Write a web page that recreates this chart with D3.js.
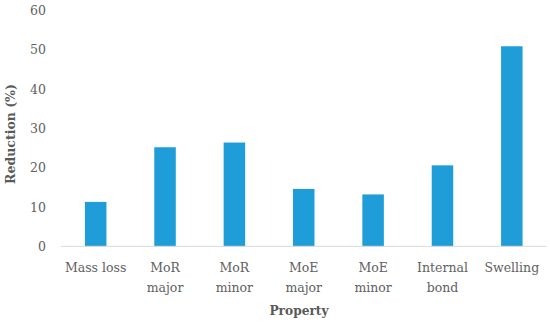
<!DOCTYPE html>
<html><head><meta charset="utf-8">
<script src="https://cdn.jsdelivr.net/npm/d3@7"></script>
<style>body{margin:0;background:#fff}svg{display:block}</style>
</head><body>
<svg id="c" width="550" height="324"></svg>
<script>
const categories = [["Mass loss"],["MoR","major"],["MoR","minor"],["MoE","major"],["MoE","minor"],["Internal","bond"],["Swelling"]];
const values = [11.3, 25.2, 26.4, 14.6, 13.2, 20.6, 50.9];
const yTicks = [0,10,20,30,40,50,60];
const yTitle = "Reduction (%)";
const xTitle = "Property";

const svg = d3.select("#c");
const font = "'DejaVu Serif', serif";
const x = d3.scaleBand().domain(d3.range(categories.length)).range([61, 546.5]).paddingInner(0.69).paddingOuter(0.345);
const y = d3.scaleLinear().domain([0,60]).range([246.3, 10.5]);

svg.selectAll("rect.bar").data(values).join("rect")
  .attr("class","bar")
  .attr("x",(d,i)=>x(i)).attr("width",x.bandwidth())
  .attr("y",d=>y(d)).attr("height",d=>y(0)-y(d))
  .attr("fill","#1e9dd8");

// baseline
svg.append("line").attr("x1",61).attr("x2",546.5).attr("y1",y(0)).attr("y2",y(0))
  .attr("stroke","#d9d9d9").attr("stroke-width",1);

// y axis labels
const yAxis = d3.axisLeft(y).tickValues(yTicks).tickSize(0).tickPadding(0);
const gy = svg.append("g").attr("transform","translate(46,0)").call(yAxis);
gy.select(".domain").remove();
gy.selectAll("text").attr("font-family",font).attr("font-size","12.5px").attr("fill","#616161");

// x labels
const gx = svg.append("g");
categories.forEach((lines,i)=>{
  const t = gx.append("text").attr("x",x(i)+x.bandwidth()/2).attr("y",272)
    .attr("text-anchor","middle").attr("font-family",font).attr("font-size","12.5px").attr("fill","#616161");
  lines.forEach((l,j)=>t.append("tspan").attr("x",x(i)+x.bandwidth()/2).attr("dy",j===0?0:19.5).text(l));
});

svg.append("text").attr("x",299).attr("y",315).attr("text-anchor","middle")
  .attr("font-family",font).attr("font-size","12.2px").attr("font-weight","bold").attr("fill","#595959").text(xTitle);
svg.append("text").attr("transform","translate(15,134) rotate(-90)").attr("text-anchor","middle")
  .attr("font-family",font).attr("font-size","12.5px").attr("font-weight","bold").attr("fill","#595959").text(yTitle);
</script>
</body></html>
